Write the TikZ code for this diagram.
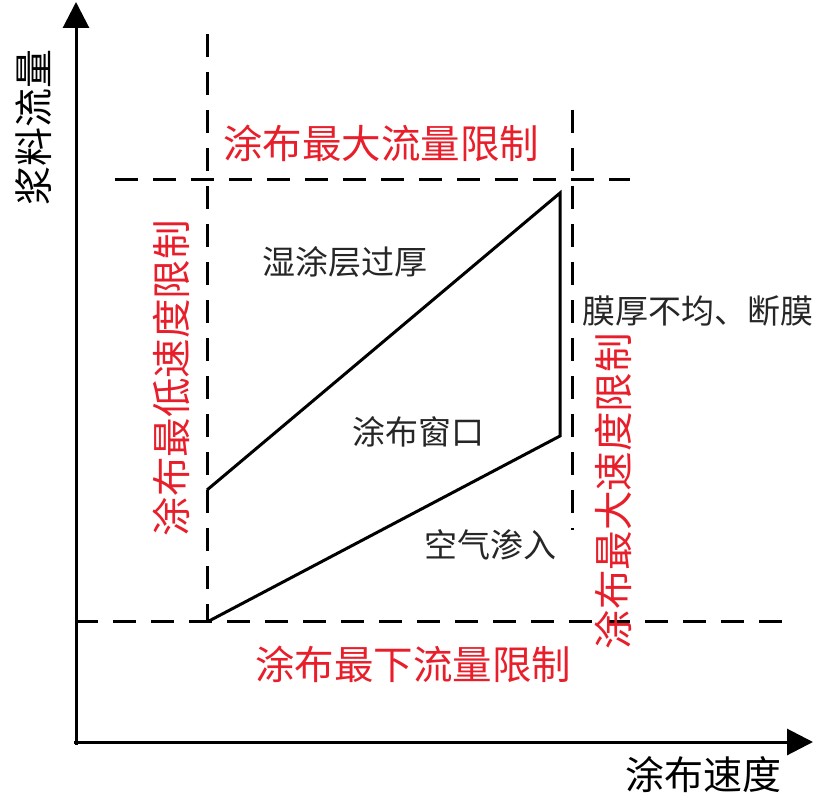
\documentclass[tikz,border=0pt]{standalone}
\usepackage{fontspec}
\newfontfamily\cjk{Noto Sans CJK SC}
\usetikzlibrary{arrows.meta}
\definecolor{limred}{RGB}{232,30,42}
\begin{document}
\begin{tikzpicture}[x=1pt,y=-1pt,
  axisline/.style={line width=3pt,-{Triangle[length=26pt,width=26pt]}},
  dashline/.style={line width=3pt,dash pattern=on 23pt off 15pt},
  winline/.style={line width=3pt,line join=miter},
  redlabel/.style={text=limred,font=\cjk\fontsize{39.5}{42}\selectfont,inner sep=0pt},
  blacklabel/.style={text=black,font=\cjk\fontsize{39}{42}\selectfont,inner sep=0pt},
  zonelabel/.style={text=black!85,font=\cjk\fontsize{33}{36}\selectfont,inner sep=0pt}]
\useasboundingbox (0,0) rectangle (826,810);
% coordinates
\coordinate (o) at (76,745);
\coordinate (ytip) at (76,2);
\coordinate (xo) at (74,742);
\coordinate (xtip) at (813,742);
\coordinate (lvt) at (207,34);
\coordinate (lvb) at (207,621);
\coordinate (rvt) at (572,110);
\coordinate (rvb) at (572,530);
\coordinate (htl) at (115,180);
\coordinate (htr) at (630,180);
\coordinate (hbl) at (75,621);
\coordinate (hbr) at (782,621);
\coordinate (p1) at (207,490);
\coordinate (p2) at (560,193);
\coordinate (p3) at (560,436);
\coordinate (p4) at (209,621);
% axes
\draw[axisline] (o) -- (ytip);
\draw[axisline] (xo) -- (xtip);
% dashed limits
\draw[dashline] (lvt) -- (lvb);
\draw[dashline] (rvt) -- (rvb);
\draw[dashline] (htl) -- (htr);
\draw[dashline] (hbl) -- (hbr);
% window
\draw[winline] (p1) -- (p2) -- (p3) -- (p4);
% labels
\node[blacklabel,rotate=90] (ylab) at (34,128) {浆料流量};
\node[blacklabel] (xlab) at (703,775) {涂布速度};
\node[redlabel] (maxflow) at (381,143) {涂布最大流量限制};
\node[redlabel] (minflow) at (413,664) {涂布最下流量限制};
\node[redlabel,rotate=90] (minspeed) at (171,378) {涂布最低速度限制};
\node[redlabel,rotate=90] (maxspeed) at (613,491) {涂布最大速度限制};
\node[zonelabel] (thick) at (345,262) {湿涂层过厚};
\node[zonelabel] (uneven) at (698,311) {膜厚不均、断膜};
\node[zonelabel] (window) at (418,432) {涂布窗口};
\node[zonelabel] (air) at (490,545) {空气渗入};
\end{tikzpicture}
\end{document}
